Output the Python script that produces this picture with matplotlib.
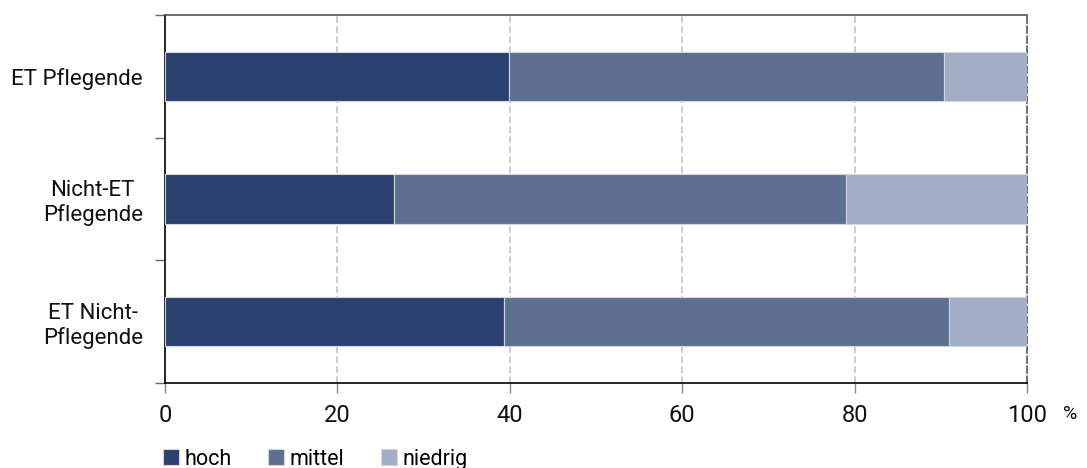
import numpy as np
import matplotlib.pyplot as plt
from matplotlib.ticker import FixedLocator

plt.rcParams['font.family'] = ['Roboto', 'DejaVu Sans']

# Data (percent)
categories = ["ET Pflegende", "Nicht-ET\nPflegende", "ET Nicht-\nPflegende"]
hoch = [39.9, 26.6, 39.3]
mittel = [50.5, 52.4, 51.7]
niedrig = [9.6, 21.0, 9.0]
series_names = ["hoch", "mittel", "niedrig"]
colors = ["#2B4170", "#5E6F8F", "#A2AEC5"]
xticks = [0, 20, 40, 60, 80, 100]

fig = plt.figure(figsize=(10.87, 4.68), dpi=100)
ax = fig.add_axes([0.1518, 0.1816, 0.7930, 0.7864])

y = np.arange(len(categories))
left = np.zeros(len(categories))
for vals, name, col in zip([hoch, mittel, niedrig], series_names, colors):
    ax.barh(y, vals, left=left, height=0.4, color=col, edgecolor="#D0D6E0",
            linewidth=0.8, label=name, zorder=3)
    left += np.array(vals)

ax.set_xlim(0, 100)
ax.set_ylim(len(categories) - 0.5, -0.5)

# gridlines
for xv in xticks[1:-1]:
    ax.axvline(xv, color="#C4C4C4", linestyle=(0, (4, 2)), linewidth=1.2, zorder=1)

# spines
ax.spines["left"].set_color("black")
ax.spines["bottom"].set_color("black")
ax.spines["top"].set_color("#555555")
ax.spines["right"].set_color("#555555")
ax.spines["right"].set_linestyle((0, (4, 2)))
for s in ax.spines.values():
    s.set_linewidth(1.2)

# x ticks
ax.set_xticks(xticks)
ax.tick_params(axis="x", direction="out", length=7, width=1, color="#888888",
               labelsize=17, pad=8, labelcolor="#111111")

# y ticks: major at boundaries, labels at centres (minor)
ax.yaxis.set_major_locator(FixedLocator(np.arange(-0.5, len(categories), 1.0)))
ax.yaxis.set_major_formatter(plt.NullFormatter())
ax.yaxis.set_minor_locator(FixedLocator(y))
ax.set_yticklabels(categories, minor=True)
ax.tick_params(axis="y", which="major", direction="out", length=7, width=1, color="#666666")
ax.tick_params(axis="y", which="minor", length=0, labelsize=16, pad=16, labelcolor="#111111")
for lab in ax.get_yticklabels(minor=True):
    lab.set_multialignment("center")

ax.text(1.042, -0.084, "%", transform=ax.transAxes, fontsize=14, color="#111111",
        ha="left", va="center")

fig.legend(loc="lower left", bbox_to_anchor=(0.142, -0.022), ncol=3, frameon=False,
           fontsize=15.5, handlelength=0.75, handleheight=0.75, handletextpad=0.25,
           columnspacing=1.7, borderaxespad=0)

fig.savefig("out.png", dpi=100)
